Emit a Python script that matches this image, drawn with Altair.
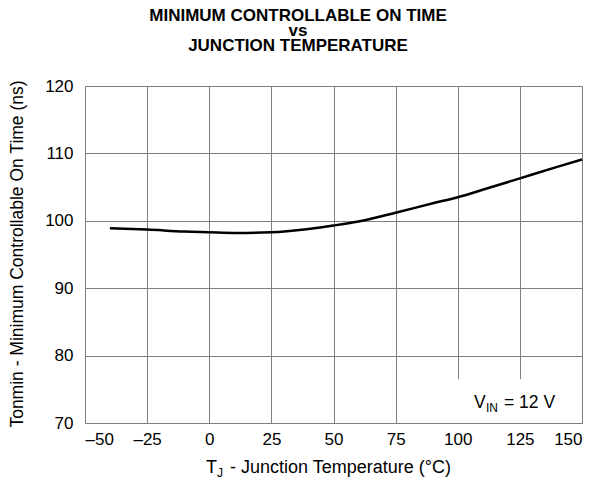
import altair as alt
import pandas as pd

# Data
temperature = [-40, -25, -10, 0, 10, 25, 40, 50, 60, 75, 90, 100, 110, 125, 140, 150]
ton_min = [98.9, 98.7, 98.4, 98.3, 98.2, 98.3, 98.8, 99.3, 99.9, 101.2, 102.6, 103.5, 104.6, 106.3, 108.0, 109.1]

x_ticks = [-50, -25, 0, 25, 50, 75, 100, 125, 150]
y_ticks = [70, 80, 90, 100, 110, 120]

title_lines = ["MINIMUM CONTROLLABLE ON TIME", "vs", "JUNCTION TEMPERATURE"]
y_title = "Tonmin - Minimum Controllable On Time (ns)"
x_title_main = "T"
x_title_sub = "J"
x_title_rest = "- Junction Temperature (°C)"
note_main = "V"
note_sub = "IN"
note_rest = "= 12 V"

# annotation box extent (data units)
box = pd.DataFrame({"x": [96], "x2": [150], "y": [70], "y2": [76.5]})

df = pd.DataFrame({"temp": temperature, "ton": ton_min})

FONT = "Liberation Sans"
W, H = 497, 337

xscale = alt.Scale(domain=[-50, 150], nice=False, zero=False)
yscale = alt.Scale(domain=[70, 120], nice=False, zero=False)

x_axis = alt.Axis(values=x_ticks, title=None, grid=True, gridColor="#7f7f7f", gridWidth=1,
                  ticks=False, domain=False, labelFontSize=17, labelColor="black",
                  labelFont=FONT, labelPadding=8,
                  labelExpr="datum.value < 0 ? '\u2013' + format(-datum.value, 'd') : format(datum.value, 'd')")
y_axis = alt.Axis(values=y_ticks, title=None, grid=True, gridColor="#7f7f7f", gridWidth=1,
                  ticks=False, domain=False, labelFontSize=17, labelColor="black",
                  labelFont=FONT, labelPadding=12)

base = alt.Chart(df)

line = base.mark_line(color="black", strokeWidth=2.5, interpolate="monotone").encode(
    x=alt.X("temp:Q", scale=xscale, axis=x_axis),
    y=alt.Y("ton:Q", scale=yscale, axis=y_axis),
)

rect = alt.Chart(box).mark_rect(fill="white", stroke=None).encode(
    x=alt.X("x:Q", scale=xscale), x2="x2:Q",
    y=alt.Y("y:Q", scale=yscale), y2="y2:Q",
)

def txt(text, x, y, size=17, align="left", angle=0, weight="normal", baseline="alphabetic"):
    props = dict(text=text, font=FONT, fontSize=size, align=align,
                 baseline=baseline, color="black", fontWeight=weight)
    if angle:
        props["angle"] = angle
    return alt.Chart(pd.DataFrame({"a": [0]})).mark_text(**props).encode(
        x=alt.value(x), y=alt.value(y))

labels = [
    txt(title_lines[0], 213, -65, size=17, align="center", weight="bold"),
    txt(title_lines[1], 213, -50.5, size=17, align="center", weight="bold"),
    txt(title_lines[2], 213, -35, size=17, align="center", weight="bold"),
    txt(x_title_main, 121, 387, size=18),
    txt(x_title_sub, 132, 391, size=12),
    txt(x_title_rest, 145, 387, size=18),
    txt(note_main, 389, 322, size=17.5),
    txt(note_sub, 401, 326, size=12),
    txt(note_rest, 419, 322, size=17.5),
    txt(y_title, -67, 168, size=17.5, align="center", angle=270, baseline="middle"),
]

chart = alt.layer(rect, line, *labels).properties(
    width=W, height=H,
    padding={"left": 77, "top": 78, "right": 5, "bottom": 60},
    autosize=alt.AutoSizeParams(type="none"),
).configure_view(stroke="black", strokeWidth=2.5).configure(background="white")

chart.save("out.html", embed_options={"renderer": "svg", "actions": False})
